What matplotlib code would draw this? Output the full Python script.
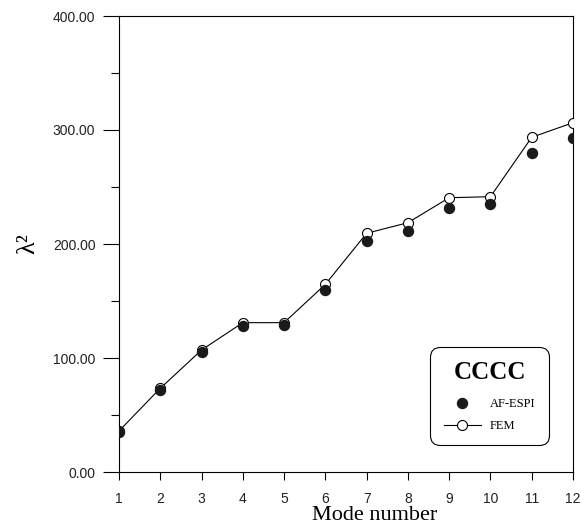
import numpy as np
import matplotlib.pyplot as plt
from matplotlib.ticker import MultipleLocator, FormatStrFormatter

modes = np.arange(1, 13)
af_espi = [35.4, 71.9, 105.5, 128.0, 129.0, 159.6, 202.6, 211.7, 231.3, 234.8, 279.5, 292.7]
fem = [36.0, 73.4, 107.0, 131.0, 131.0, 164.6, 209.4, 218.7, 240.6, 241.5, 293.6, 306.4]

SERIF = "Liberation Serif"
SANS = "Liberation Sans"
LW = 0.8

fig = plt.figure(figsize=(5.81, 5.30), dpi=100)
ax = fig.add_axes([119 / 581, 58 / 530, 454 / 581, 456 / 530])

fem_line, = ax.plot(modes, fem, color="black", linewidth=LW, marker="o",
                    markersize=7.2, markerfacecolor="white",
                    markeredgecolor="black", markeredgewidth=0.8,
                    label="FEM", zorder=3)
af_pts, = ax.plot(modes, af_espi, linestyle="none", marker="o",
                  markersize=7.2, color="#1a1a1a", label="AF-ESPI", zorder=4)

ax.set_xlim(1, 12)
ax.set_ylim(0, 400)
ax.xaxis.set_major_locator(MultipleLocator(1))
ax.yaxis.set_major_locator(MultipleLocator(100))
ax.yaxis.set_minor_locator(MultipleLocator(50))
ax.yaxis.set_major_formatter(FormatStrFormatter("%.2f"))

ax.tick_params(axis="y", which="major", direction="out", length=11.5,
               width=LW, pad=5.5, labelsize=10, labelcolor="#222222")
ax.tick_params(axis="y", which="minor", direction="out", length=5.8, width=LW)
ax.tick_params(axis="x", which="major", direction="out", length=5.8,
               width=LW, pad=8.5, labelsize=10, labelcolor="#222222")
for lab in ax.get_xticklabels() + ax.get_yticklabels():
    lab.set_family(SANS)
for sp in ax.spines.values():
    sp.set_linewidth(LW)

ax.set_xlabel("Mode number", family=SERIF, fontsize=16)
ax.xaxis.set_label_coords((375 - 119) / 454, -0.074)
ax.set_ylabel("λ²", family=SERIF, fontsize=19)
ax.yaxis.set_label_coords(-0.176, 0.5)

leg = ax.legend(handles=[af_pts, fem_line], title="CCCC", loc="lower right",
                bbox_to_anchor=(0.960, 0.045), prop={"family": SERIF, "size": 9},
                title_fontproperties={"family": SERIF, "size": 18, "weight": "bold"},
                handlelength=3.0, handletextpad=0.7, labelspacing=0.8,
                borderpad=1.05, fancybox=True, framealpha=1, edgecolor="black")
leg._legend_box.sep = 10.5
leg.get_frame().set_linewidth(LW)
leg.get_frame().set_boxstyle("round", pad=0, rounding_size=0.8)

fig.savefig("out.png", dpi=100)
